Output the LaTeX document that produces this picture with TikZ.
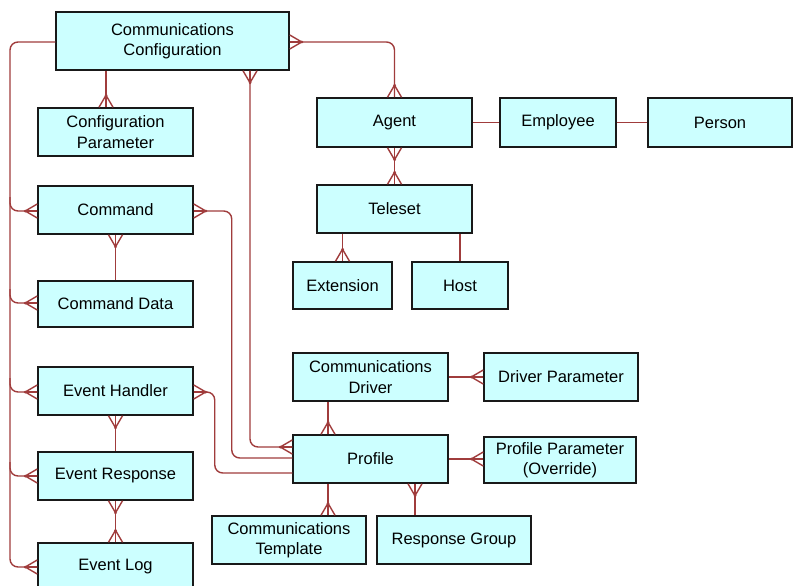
\documentclass[tikz,border=0pt]{standalone}
\usepackage{fontspec}
\setmainfont{Liberation Sans}
\usetikzlibrary{calc}
\definecolor{relc}{RGB}{160,60,60}
\definecolor{entfill}{RGB}{204,255,255}
\tikzset{
  ent/.style={draw=black!90, fill=entfill, line width=1.5pt, inner sep=0pt, align=center,
    font=\fontsize{16.5}{20.5}\selectfont},
  rel/.style={draw=relc, line width=1.4pt},
  crowW/.pic={\draw[rel] (0,-7) -- (-12,0) -- (0,7); \draw[rel] (0,0) -- (-12,0); \fill[relc] (-12,0) circle[radius=1.5pt];},
  crowE/.pic={\draw[rel] (0,-7) -- (12,0) -- (0,7); \draw[rel] (0,0) -- (12,0); \fill[relc] (12,0) circle[radius=1.5pt];},
  crowN/.pic={\draw[rel] (-7,0) -- (0,-12) -- (7,0); \draw[rel] (0,0) -- (0,-12); \fill[relc] (0,-12) circle[radius=1.5pt];},
  crowS/.pic={\draw[rel] (-7,0) -- (0,12) -- (7,0); \draw[rel] (0,0) -- (0,12); \fill[relc] (0,12) circle[radius=1.5pt];},
}
\begin{document}
\begin{tikzpicture}[x=1pt,y=-1pt]
\clip (0,0) rectangle (793,586);
\fill[white] (0,0) rectangle (793,586);

\coordinate (busTop) at (10,42);
\coordinate (busBot) at (10,567);
\coordinate (bcmd) at (10,197);
\coordinate (bcmdd) at (10,289);
\coordinate (beh) at (10,378);
\coordinate (ber) at (10,462);

% entities
\node[ent, minimum width=233pt, minimum height=58pt] (cc) at (172.5,41) {Communications\\Configuration};
\node[ent, minimum width=155pt, minimum height=48pt] (cp) at (115.5,132) {Configuration\\Parameter};
\node[ent, minimum width=155pt, minimum height=49pt] (agent) at (394.5,122.5) {Agent};
\node[ent, minimum width=116pt, minimum height=49pt] (emp) at (558,122.5) {Employee};
\node[ent, minimum width=144pt, minimum height=49pt] (person) at (720,122.5) {Person};
\node[ent, minimum width=155pt, minimum height=48pt] (tele) at (394.5,209) {Teleset};
\node[ent, minimum width=99pt, minimum height=47pt] (ext) at (342.5,285.5) {Extension};
\node[ent, minimum width=96pt, minimum height=47pt] (host) at (460,285.5) {Host};
\node[ent, minimum width=155pt, minimum height=48pt] (cmd) at (115.5,210) {Command};
\node[ent, minimum width=155pt, minimum height=46pt] (cmdd) at (115.5,304) {Command Data};
\node[ent, minimum width=155pt, minimum height=48pt] (eh) at (115.5,391) {Event Handler};
\node[ent, minimum width=155pt, minimum height=48pt] (er) at (115.5,476) {Event Response};
\node[ent, minimum width=155pt, minimum height=48pt] (el) at (115.5,567) {Event Log};
\node[ent, minimum width=155pt, minimum height=48pt] (drv) at (370.5,377) {Communications\\Driver};
\node[ent, minimum width=154pt, minimum height=48pt] (dp) at (561,377) {Driver Parameter};
\node[ent, minimum width=155pt, minimum height=48pt] (prof) at (370.5,459) {Profile};
\node[ent, minimum width=152pt, minimum height=46pt] (pp) at (560,460) {Profile Parameter\\(Override)};
\node[ent, minimum width=154pt, minimum height=48pt] (ct) at (289,540) {Communications\\Template};
\node[ent, minimum width=154pt, minimum height=48pt] (rg) at (454,540) {Response Group};

% left bus from Communications Configuration
\draw[rel, rounded corners=8pt] ($(cc.west)+(0,1)$) -- (busTop) -- (busBot) -- (el.west);
\pic at (el.west) {crowW};
\draw[rel, rounded corners=8pt] (bcmd) |- ($(cmd.west)+(0,1)$);
\pic at ($(cmd.west)+(0,1)$) {crowW};
\draw[rel, rounded corners=8pt] (bcmdd) |- ($(cmdd.west)+(0,-1)$);
\pic at ($(cmdd.west)+(0,-1)$) {crowW};
\draw[rel, rounded corners=8pt] (beh) |- ($(eh.west)+(0,1)$);
\pic at ($(eh.west)+(0,1)$) {crowW};
\draw[rel, rounded corners=8pt] (ber) |- (er.west);
\pic at (er.west) {crowW};

% Communications Configuration -> Configuration Parameter
\draw[rel] ($(cc.south)+(-66.5,0)$) -- ($(cp.north)+(-9.5,0)$);
\pic at ($(cp.north)+(-9.5,0)$) {crowN};

% Communications Configuration <-> Agent
\draw[rel, rounded corners=8pt] ($(cc.east)+(0,1)$) -| (agent.north);
\pic at ($(cc.east)+(0,1)$) {crowE};
\pic at (agent.north) {crowN};

% Communications Configuration <-> Profile
\draw[rel, rounded corners=8pt] ($(cc.south)+(77.5,0)$) |- ($(prof.west)+(0,-12)$);
\pic at ($(cc.south)+(77.5,0)$) {crowS};
\pic at ($(prof.west)+(0,-12)$) {crowW};

% Command -> Profile
\draw[rel, rounded corners=8pt] ($(cmd.east)+(0,1)$) -- ++(38,0) |- ($(prof.west)+(0,-1)$);
\pic at ($(cmd.east)+(0,1)$) {crowE};

% Event Handler -> Profile
\draw[rel, rounded corners=8pt] ($(eh.east)+(0,1)$) -- ++(21,0) |- ($(prof.west)+(0,14)$);
\pic at ($(eh.east)+(0,1)$) {crowE};

% Command -> Command Data
\draw[rel] (cmd.south) -- (cmdd.north);
\pic at (cmd.south) {crowS};

% Event Handler -> Event Response
\draw[rel] (eh.south) -- (er.north);
\pic at (eh.south) {crowS};

% Event Response <-> Event Log
\draw[rel] (er.south) -- (el.north);
\pic at (er.south) {crowS};
\pic at (el.north) {crowN};

% Agent <-> Teleset
\draw[rel] (agent.south) -- (tele.north);
\pic at (agent.south) {crowS};
\pic at (tele.north) {crowN};

% Agent - Employee - Person
\draw[rel] (agent.east) -- (emp.west);
\draw[rel] (emp.east) -- (person.west);

% Teleset -> Extension, Host
\draw[rel] (tele.south -| ext.north) -- (ext.north);
\pic at (ext.north) {crowN};
\draw[rel] (tele.south -| host.north) -- (host.north);

% Driver -> Driver Parameter
\draw[rel] (drv.east) -- (dp.west);
\pic at (dp.west) {crowW};

% Driver -> Profile
\draw[rel] ($(drv.south)+(-42.5,0)$) -- ($(prof.north)+(-42.5,0)$);
\pic at ($(prof.north)+(-42.5,0)$) {crowN};

% Profile -> Profile Parameter
\draw[rel] (prof.east) -- (prof.east -| pp.west);
\pic at (prof.east -| pp.west) {crowW};

% Profile -> Communications Template
\coordinate (ps1) at ($(prof.south)+(-42.5,0)$);
\draw[rel] (ps1) -- (ps1 |- ct.north);
\pic at (ps1 |- ct.north) {crowN};

% Profile <-> Response Group
\coordinate (ps2) at ($(prof.south)+(44.5,0)$);
\draw[rel] (ps2) -- (ps2 |- rg.north);
\pic at (ps2) {crowS};
\end{tikzpicture}
\end{document}
